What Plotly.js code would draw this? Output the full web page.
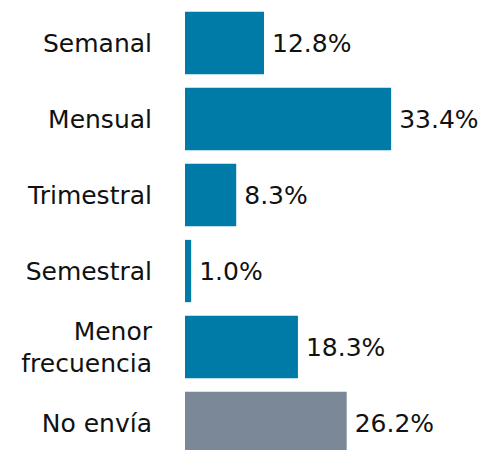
<!DOCTYPE html>
<html>
<head>
<meta charset="utf-8">
<script src="https://cdn.plot.ly/plotly-3.0.1.min.js"></script>
<style>html,body{margin:0;padding:0;background:#fff;}#chart{width:480px;height:450px;}</style>
</head>
<body>
<div id="chart"></div>
<script>
const categories = ["Semanal", "Mensual", "Trimestral", "Semestral", "Menor<br>frecuencia", "No envía"];
const values = [12.8, 33.4, 8.3, 1.0, 18.3, 26.2];
const barColors = ["#007ba7", "#007ba7", "#007ba7", "#007ba7", "#007ba7", "#7a8898"];

const trace = {
  type: "bar",
  orientation: "h",
  x: values,
  y: categories,
  marker: {color: barColors},
  texttemplate: "\u2009%{x:.1f}%",
  textposition: "outside",
  cliponaxis: false,
  textfont: {family: "DejaVu Sans, sans-serif", size: 25, color: "#111"},
  hoverinfo: "none"
};

const layout = {
  width: 480,
  height: 450,
  margin: {l: 185, r: 0, t: 0, b: 0},
  paper_bgcolor: "#fff",
  plot_bgcolor: "#fff",
  showlegend: false,
  bargap: 0.18,
  xaxis: {range: [0, 47.8], visible: false, fixedrange: true},
  yaxis: {
    type: "category",
    range: [5.355, -0.566],
    showgrid: false,
    zeroline: false,
    showline: false,
    ticks: "",
    ticklabelstandoff: 32,
    tickfont: {family: "DejaVu Sans, sans-serif", size: 25, color: "#111"},
    fixedrange: true
  },
  font: {family: "DejaVu Sans, sans-serif"}
};

Plotly.newPlot("chart", [trace], layout, {displayModeBar: false, staticPlot: true});
</script>
</body>
</html>
